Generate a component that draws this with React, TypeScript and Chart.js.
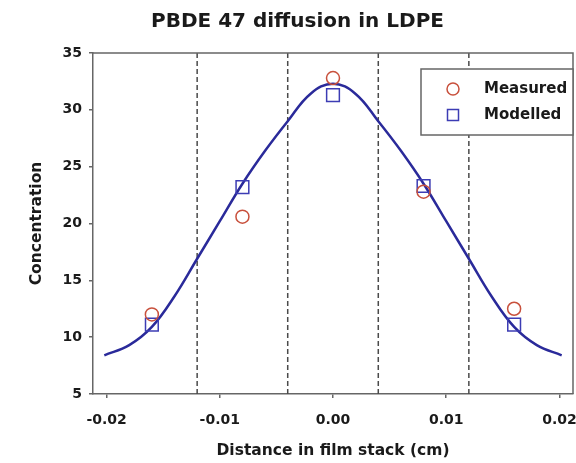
import React, { useEffect, useRef } from "react";
import { Chart, registerables } from "chart.js";

Chart.register(...registerables);

const TITLE = "PBDE 47 diffusion in LDPE";
const X_TITLE = "Distance in film stack (cm)";
const Y_TITLE = "Concentration";

const sampleX = [-0.016, -0.008, 0, 0.008, 0.016];
const measured = [12.0, 20.6, 32.8, 22.8, 12.5];
const modelled = [11.1, 23.2, 31.3, 23.3, 11.1];

const curveX = [-0.0202, -0.018, -0.016, -0.014, -0.012, -0.01, -0.008, -0.006, -0.004, -0.002, 0, 0.002, 0.004, 0.006, 0.008, 0.01, 0.012, 0.014, 0.016, 0.018, 0.0202];
const curveY = [8.4, 9.3, 10.9, 13.6, 16.9, 20.2, 23.5, 26.4, 29.0, 31.4, 32.3, 31.4, 29.0, 26.4, 23.5, 20.2, 16.9, 13.6, 10.9, 9.3, 8.4];

const boundaries = [-0.012, -0.004, 0.004, 0.012];
const xTicks = [-0.02, -0.01, 0, 0.01, 0.02];
const yTicks = [5, 10, 15, 20, 25, 30, 35];

const X_MIN = -0.0212;
const X_MAX = 0.0212;
const Y_MIN = 5;
const Y_MAX = 35;

const FONT = "'DejaVu Sans', sans-serif";
const TEXT = "#1a1a1a";
const AXIS = "#666";
const RED = "#c8503c";
const BLUE = "#3c3cb4";
const CURVE = "#2a2a9a";

const framePlugin = {
  id: "frame",
  afterDatasetsDraw(chart: any) {
    const { ctx, chartArea } = chart;
    ctx.save();
    ctx.strokeStyle = AXIS;
    ctx.lineWidth = 1.5;
    ctx.beginPath();
    ctx.moveTo(chartArea.left, chartArea.top);
    ctx.lineTo(chartArea.right, chartArea.top);
    ctx.lineTo(chartArea.right, chartArea.bottom);
    ctx.stroke();
    ctx.restore();
  },
};

const legendPlugin = {
  id: "boxLegend",
  afterDraw(chart: any) {
    const { ctx, chartArea } = chart;
    const w = 152;
    const h = 66;
    const right = chartArea.right;
    const left = right - w;
    const top = chartArea.top + 16;
    ctx.save();
    ctx.fillStyle = "#ffffff";
    ctx.fillRect(left, top, w, h);
    ctx.strokeStyle = AXIS;
    ctx.lineWidth = 1.5;
    ctx.strokeRect(left, top, w, h);
    [0, 1].forEach((idx, i) => {
      const ds = chart.data.datasets[idx];
      const cx = left + 32;
      const cy = top + 20 + i * 26;
      ctx.strokeStyle = ds.borderColor;
      ctx.lineWidth = 1.5;
      if (ds.pointStyle === "circle") {
        ctx.beginPath();
        ctx.arc(cx, cy, 6, 0, Math.PI * 2);
        ctx.stroke();
      } else {
        ctx.strokeRect(cx - 5.5, cy - 5.5, 11, 11);
      }
      ctx.fillStyle = TEXT;
      ctx.font = `bold 15px ${FONT}`;
      ctx.textAlign = "left";
      ctx.textBaseline = "middle";
      ctx.fillText(ds.label, left + 63, cy);
    });
    ctx.restore();
  },
};

export default function App() {
  const ref = useRef<HTMLCanvasElement | null>(null);

  useEffect(() => {
    if (!ref.current) return;
    const boundarySets = boundaries.map((b, i) => ({
      label: `boundary${i}`,
      data: [
        { x: b, y: Y_MIN },
        { x: b, y: Y_MAX },
      ],
      showLine: true,
      borderColor: "#4a4a4a",
      borderWidth: 1.5,
      borderDash: [5, 3],
      pointRadius: 0,
      fill: false,
    }));

    const chart = new Chart(ref.current, {
      type: "scatter",
      data: {
        datasets: [
          {
            label: "Measured",
            data: sampleX.map((x, i) => ({ x, y: measured[i] })),
            pointStyle: "circle",
            pointRadius: 6.5,
            borderColor: RED,
            backgroundColor: "rgba(0,0,0,0)",
            borderWidth: 1.5,
          },
          {
            label: "Modelled",
            data: sampleX.map((x, i) => ({ x, y: modelled[i] })),
            pointStyle: "rect",
            pointRadius: 9,
            borderColor: BLUE,
            backgroundColor: "rgba(0,0,0,0)",
            borderWidth: 1.5,
          },
          {
            label: "Model curve",
            data: curveX.map((x, i) => ({ x, y: curveY[i] })),
            showLine: true,
            tension: 0.4,
            borderColor: CURVE,
            borderWidth: 2.5,
            pointRadius: 0,
            fill: false,
          },
          ...boundarySets,
        ] as any,
      },
      options: {
        animation: false,
        responsive: false,
        devicePixelRatio: 1,
        layout: { autoPadding: false, padding: { left: 22, right: 3, top: 0, bottom: 0 } },
        plugins: {
          legend: { display: false },
          tooltip: { enabled: false },
          title: {
            display: true,
            text: TITLE,
            color: TEXT,
            font: { family: FONT, size: 20, weight: "bold" },
            padding: { top: 10, bottom: 19 },
          },
        },
        scales: {
          x: {
            type: "linear",
            min: X_MIN,
            max: X_MAX,
            afterBuildTicks: (scale: any) => {
              scale.ticks = xTicks.map((v) => ({ value: v }));
            },
            afterFit: (scale: any) => {
              scale.height = 69;
              scale.paddingLeft = 0;
              scale.paddingRight = 0;
            },
            ticks: {
              color: TEXT,
              font: { family: FONT, size: 14, weight: "bold" },
              padding: 14,
              maxRotation: 0,
              autoSkip: false,
              callback: (v: any) => Number(v).toFixed(2),
            },
            grid: { drawOnChartArea: false, drawTicks: true, tickLength: 4, color: AXIS, lineWidth: 1.5 },
            border: { display: true, color: AXIS, width: 1.5 },
            title: {
              display: true,
              text: X_TITLE,
              color: TEXT,
              font: { family: FONT, size: 15.5, weight: "bold" },
              padding: { top: 0, bottom: 3 },
            },
          },
          y: {
            type: "linear",
            min: Y_MIN,
            max: Y_MAX,
            afterBuildTicks: (scale: any) => {
              scale.ticks = yTicks.map((v) => ({ value: v }));
            },
            afterFit: (scale: any) => {
              scale.width = 71;
              scale.paddingTop = 0;
              scale.paddingBottom = 0;
            },
            ticks: {
              color: TEXT,
              font: { family: FONT, size: 14, weight: "bold" },
              padding: 7,
              autoSkip: false,
              callback: (v: any) => String(v),
            },
            grid: { drawOnChartArea: false, drawTicks: true, tickLength: 4, color: AXIS, lineWidth: 1.5 },
            border: { display: true, color: AXIS, width: 1.5 },
            title: {
              display: true,
              text: Y_TITLE,
              color: TEXT,
              font: { family: FONT, size: 15.5, weight: "bold" },
              padding: { top: 6, bottom: 0 },
            },
          },
        },
      } as any,
      plugins: [framePlugin, legendPlugin],
    });
    return () => chart.destroy();
  }, []);

  return (
    <div style={{ position: "absolute", left: 0, top: 0, width: 576, height: 463, background: "#fff" }}>
      <canvas ref={ref} width={576} height={463} style={{ display: "block", width: 576, height: 463 }} />
    </div>
  );
}
